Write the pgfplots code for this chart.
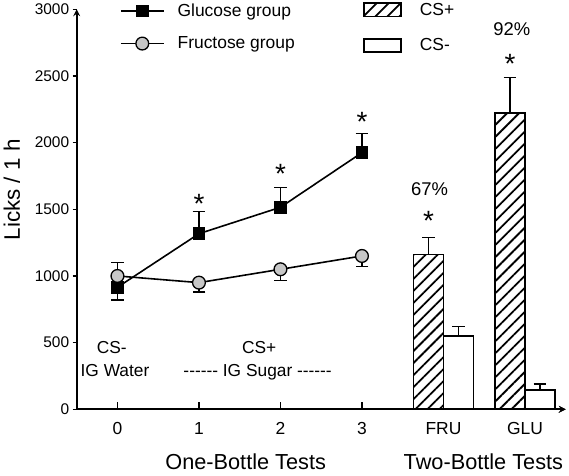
\documentclass[border=0pt]{standalone}
\usepackage{fontspec}
\setmainfont{Liberation Sans}
\usepackage{pgfplots}
\pgfplotsset{compat=1.18}
\usetikzlibrary{patterns.meta}
\newcommand\fs[1]{\fontsize{#1}{#1}\selectfont}
\colorlet{circfill}{black!22}
\pgfplotsset{
  lineleg/.style={legend image code/.code={\draw[mark repeat=2,mark phase=2,##1] plot coordinates {(0bp,0bp) (21.5bp,0bp) (43bp,0bp)};}},
  barleg/.style={legend image code/.code={\draw[##1,/tikz/.cd] (0bp,-6.65bp) rectangle (36.7bp,6.65bp);}},
  ebar/.style={forget plot, only marks, mark=none, error bars/.cd, y dir=#1, y explicit, error mark=-, error bar style={line width=1.5bp, black, solid}, error mark options={rotate=90, mark size=6.3bp, line width=1.5bp, black}},
  common/.style={scale only axis, width=489bp, height=400bp, xmin=-0.5, xmax=5.5, ymin=0, ymax=3000, axis line style={line width=2bp,-}, clip=false,
    /pgf/number format/assume math mode=true, /pgf/number format/set thousands separator={}, scaled y ticks=false}
}
\begin{document}
\begin{tikzpicture}
% ---------- axis 1: lines, y axis ----------
\begin{axis}[common,
  axis x line=bottom, axis y line=left,
  xtick=\empty,
  ytick={0,500,...,3000},
  tick align=outside, major tick length=4bp,
  tick style={line width=1.5bp, black},
  y tick label style={font=\fs{15.5}},
  legend cell align=left,
  legend style={draw=none, fill=none, at={(rel axis cs:0,1)}, anchor=north west, xshift=43.3bp, yshift=5.4bp,
    font=\fs{17.5}, inner sep=0pt, outer sep=0pt, row sep=18.8bp, nodes={inner sep=0pt},
    /tikz/every odd column/.append style={column sep=13bp}},
]
\addplot[ebar=minus] coordinates {(0,915) +- (0,95)};
\addplot[ebar=plus] coordinates {(1,1317) +- (0,165) (2,1515) +- (0,147) (3,1925) +- (0,145)};
\addplot[ebar=plus] coordinates {(0,1000) +- (0,100)};
\addplot[ebar=minus] coordinates {(1,950) +- (0,72) (2,1050) +- (0,83) (3,1150) +- (0,80)};
\addplot[lineleg, black, line width=1.6bp, mark=square*, mark size=5.5bp, mark options={solid, fill=black}]
  coordinates {(0,915) (1,1317) (2,1515) (3,1925)};
\addlegendentry{Glucose group}
\addplot[lineleg, black, line width=1.6bp, mark=*, mark size=6.4bp, mark options={solid, fill=circfill, line width=1.3bp}]
  coordinates {(0,1000) (1,950) (2,1050) (3,1150)};
\addlegendentry{Fructose group}
% annotations
\node[font=\fs{17.4}, anchor=base] at (axis cs:-0.07,415) {CS-};
\node[font=\fs{17.4}, anchor=base] at (axis cs:-0.03,245) {IG Water};
\node[font=\fs{17.4}, anchor=base] at (axis cs:1.74,415) {CS+};
\node[font=\fs{17.4}, anchor=base] at (axis cs:1.72,245) {\mbox{-}\mbox{-}\mbox{-}\mbox{-}\mbox{-}\mbox{-} IG Sugar \mbox{-}\mbox{-}\mbox{-}\mbox{-}\mbox{-}\mbox{-}};
\node[font=\fs{28}, anchor=base] at (axis cs:1,1470) {*};
\node[font=\fs{28}, anchor=base] at (axis cs:2,1695) {*};
\node[font=\fs{28}, anchor=base] at (axis cs:3,2080) {*};
\node[font=\fs{28}, anchor=base] at (axis cs:3.816,1340) {*};
\node[font=\fs{28}, anchor=base] at (axis cs:4.816,2520) {*};
\node[font=\fs{18.5}, anchor=base] at (axis cs:3.83,1602) {67\%};
\node[font=\fs{18.5}, anchor=base] at (axis cs:4.84,2805) {92\%};
% axis titles
\node[font=\fs{21.8}, anchor=base] at ([yshift=-59.7bp]axis cs:1.573,0) {One-Bottle Tests};
\node[font=\fs{21.8}, anchor=base] at ([yshift=-59.7bp]axis cs:4.49,0) {Two-Bottle Tests};
\node[font=\fs{22.5}, anchor=base, rotate=90] at ([xshift=-56.7bp]axis cs:-0.5,1645) {Licks / 1 h};
\end{axis}
% ---------- axis 2: bars, x ticks ----------
\begin{axis}[common,
  axis x line=bottom, axis y line=none,
  xtick={0,1,2,3},
  extra x ticks={4,5}, extra x tick labels={FRU,GLU},
  extra x tick style={tick style={draw=none}},
  ytick=\empty,
  tick align=inside, major tick length=7bp,
  tick style={line width=1.5bp, black},
  x tick label style={font=\fs{17.5}, yshift=-10bp},
  legend cell align=left,
  legend style={draw=none, fill=none, at={(rel axis cs:0,1)}, anchor=north west, xshift=286.6bp, yshift=7bp,
    font=\fs{17.5}, inner sep=0pt, outer sep=0pt, row sep=21bp, nodes={inner sep=0pt},
    /tikz/every odd column/.append style={column sep=18.3bp}},
]
\addplot[ybar, bar width=30bp, bar shift=0pt, draw=black, line width=1.6bp,
  pattern={Lines[angle=45,distance=8.5bp,line width=1.8bp]}, barleg,
  error bars/.cd, y dir=plus, y explicit, error mark=-, error bar style={line width=1.5bp, black},
  error mark options={rotate=90, mark size=6.3bp, line width=1.5bp, black}]
  coordinates {(3.816,1160) +- (0,130) (4.816,2220) +- (0,270)};
\addlegendentry{CS+}
\addplot[ybar, bar width=30bp, bar shift=0pt, draw=black, line width=1.6bp, fill=white, barleg,
  error bars/.cd, y dir=plus, y explicit, error mark=-, error bar style={line width=1.5bp, black},
  error mark options={rotate=90, mark size=6.3bp, line width=1.5bp, black}]
  coordinates {(4.184,550) +- (0,70) (5.184,145) +- (0,45)};
\addlegendentry{CS-}
\end{axis}
\pgfresetboundingbox
\useasboundingbox (-76.7bp,-66.7bp) rectangle (492.3bp,409.3bp);
\end{tikzpicture}
\end{document}
